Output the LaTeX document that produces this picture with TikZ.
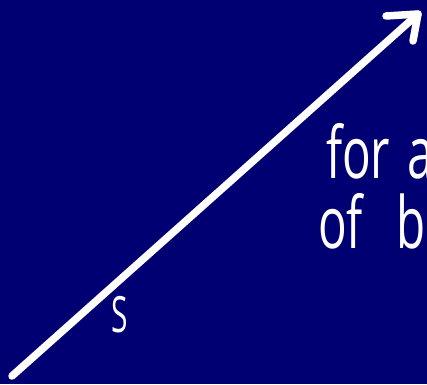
\documentclass[tikz,border=0pt]{standalone}
\usepackage{fontspec}
\setmainfont{Open Sans}
\usepackage{xcolor}
\definecolor{board}{RGB}{0,0,115}
\usetikzlibrary{arrows.meta}

\begin{document}
\begin{tikzpicture}[x=1pt,y=-1pt,line cap=round,line join=round]
\tikzset{chalk/.style={white,line width=7.5pt},
hand/.style={white,inner sep=0pt,anchor=base west,font=\fontsize{72}{72}\selectfont,xscale=0.66}}
\fill[board](0,0)rectangle(427,384);
\clip(0,0)rectangle(427,384);
\coordinate(start)at(12,376);
\coordinate(tip)at(418,14);
\draw[chalk](start)--(tip);
\draw[chalk](386,16)--(tip)--(413,41);
\node[white,inner sep=0pt,font=\fontsize{50}{50}\selectfont,xscale=0.6](S)at(120,315){S};
\node[hand](line1)at(326,178){for\hspace{0.1em} a};
\node[hand](line2)at(318,248){of\hspace{0.7em}b};
\end{tikzpicture}
\end{document}
